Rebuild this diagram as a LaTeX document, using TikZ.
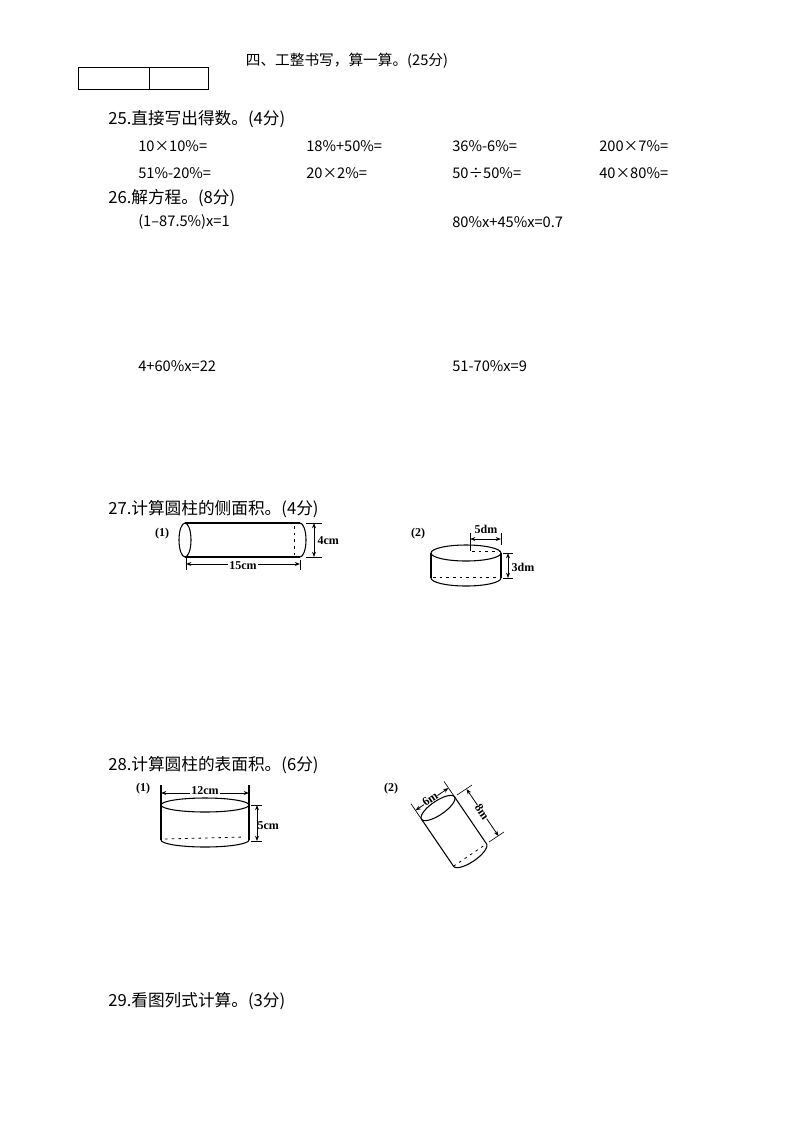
\documentclass[tikz,border=0pt]{standalone}
\usepackage{fontspec}
\setmainfont{Noto Sans CJK SC}
\newfontfamily\figfont{Liberation Serif}
\usetikzlibrary{arrows.meta}
\begin{document}
\begin{tikzpicture}[x=0.75pt,y=-0.75pt,
  hd/.style={anchor=west,font=\fontsize{12.5}{14}\selectfont,inner sep=0pt},
  it/.style={anchor=west,font=\fontsize{11}{13}\selectfont,inner sep=0pt},
  fl/.style={font=\figfont\bfseries\fontsize{9}{10}\selectfont,inner sep=1pt},
  ln/.style={line width=0.8pt},
  dm/.style={line width=0.6pt,{Stealth[length=4pt]}-{Stealth[length=4pt]}},
  ds/.style={line width=0.6pt,dash pattern=on 2pt off 3pt}]
\useasboundingbox (0,0) rectangle (793,1121);
\node[font=\fontsize{11}{13}\selectfont] (title) at (347,61) {四、工整书写，算一算。(25分)};
\draw[line width=0.5pt] (78,67) rectangle (208,89) (149,67) -- (149,89);
\node[hd] (q25) at (108,119) {25.直接写出得数。(4分)};
\node[it] (a1) at (138,146) {10×10\%=};
\node[it] (a2) at (306,146) {18\%+50\%=};
\node[it] (a3) at (452,146) {36\%-6\%=};
\node[it] (a4) at (599,146) {200×7\%=};
\node[it] (b1) at (138,173) {51\%-20\%=};
\node[it] (b2) at (306,173) {20×2\%=};
\node[it] (b3) at (452,173) {50÷50\%=};
\node[it] (b4) at (599,173) {40×80\%=};
\node[hd] (q26) at (108,198) {26.解方程。(8分)};
\node[it] (e1) at (138,222) {(1--87.5\%)x=1};
\node[it] (e2) at (452,222) {80\%x+45\%x=0.7};
\node[it] (e3) at (138,366) {4+60\%x=22};
\node[it] (e4) at (452,366) {51-70\%x=9};
\node[hd] (q27) at (108,509) {27.计算圆柱的侧面积。(4分)};
\node[hd] (q28) at (108,765) {28.计算圆柱的表面积。(6分)};
\node[hd] (q29) at (108,1001) {29.看图列式计算。(3分)};
% 27 (1)
\node[fl] (l1) at (162,534) {(1)};
\draw[ln] (185,540) ellipse [x radius=6,y radius=17];
\draw[ln] (185,523) -- (300,523) (185,557) -- (300,557);
\draw[ln] (300,523) arc[start angle=-90,end angle=90,x radius=6,y radius=17];
\draw[ds] (294,526) -- (294,555);
\draw[line width=0.5pt] (306,523) -- (322,523) (306,557) -- (322,557);
\draw[dm] (314,523) -- (314,557);
\node[fl,anchor=west] (c4) at (316,541) {4cm};
\draw[line width=0.5pt] (186,558) -- (186,570) (300,560) -- (300,570);
\draw[dm] (186,564) -- (300,564);
\node[fl,fill=white] (c15) at (243,566) {15cm};
% 27 (2)
\node[fl] (l2) at (418,534) {(2)};
\draw[ln] (466,553) ellipse [x radius=35,y radius=8];
\draw[ln] (431,553) -- (431,578) (501,553) -- (501,578);
\draw[ln] (431,578) arc[start angle=180,end angle=0,x radius=35,y radius=8];
\draw[ds] (433,577) -- (499,577);
\draw[line width=0.5pt] (470,533) -- (470,551) (501,533) -- (501,545);
\draw[ds] (472,551) -- (500,551);
\draw[dm] (470,539) -- (501,539);
\node[fl] (d5) at (486,529) {5dm};
\draw[line width=0.5pt] (503,553) -- (513,553) (503,578) -- (513,578);
\draw[dm] (508,553) -- (508,578);
\node[fl,anchor=west] (d3) at (510,567) {3dm};
% 28 (1)
\node[fl] (m1) at (143,789) {(1)};
\draw[ln] (205,805) ellipse [x radius=44,y radius=7];
\draw[ln] (161,785) -- (161,840) (249,785) -- (249,840);
\draw[ln] (161,840) arc[start angle=180,end angle=0,x radius=44,y radius=7];
\draw[ds] (165,839) -- (245,837);
\draw[dm] (161,793) -- (249,793);
\node[fl,fill=white] (m12) at (205,791) {12cm};
\draw[line width=0.5pt] (251,805) -- (262,805) (251,841) -- (262,841);
\draw[dm] (257,805) -- (257,841);
\node[fl,anchor=west] (m5) at (256,826) {5cm};
% 28 (2)
\node[fl] (n2) at (391,789) {(2)};
\draw[ln] plot[domain=0:360,samples=72,smooth] ({438-16.5*cos(\x)+3.9*sin(\x)},{808+11.2*cos(\x)+5.8*sin(\x)});
\draw[ln] (454.5,796.8) -- (486.5,843.8) (421.5,819.2) -- (453.5,866.2);
\draw[ln] plot[domain=0:180,samples=36,smooth] ({470+16.5*cos(\x)+3.9*sin(\x)},{855-11.2*cos(\x)+5.8*sin(\x)});
\draw[ds] (453.5,866.2) -- (486.5,843.8);
\draw[line width=0.5pt] (421.5,819.2) -- (411,803.8) (454.5,796.8) -- (444,781.4);
\draw[dm] (415.5,810.4) -- (448.5,788);
\node[fl,rotate=34,fill=white,inner sep=0pt] (n6) at (430,799) {6m};
\draw[line width=0.5pt] (457,795) -- (472,785) (489,842) -- (504,832);
\draw[dm] (466.5,789) -- (498.5,836);
\node[fl,rotate=-56,fill=white,inner sep=0pt] (n8) at (482,812) {8m};
\end{tikzpicture}
\end{document}
